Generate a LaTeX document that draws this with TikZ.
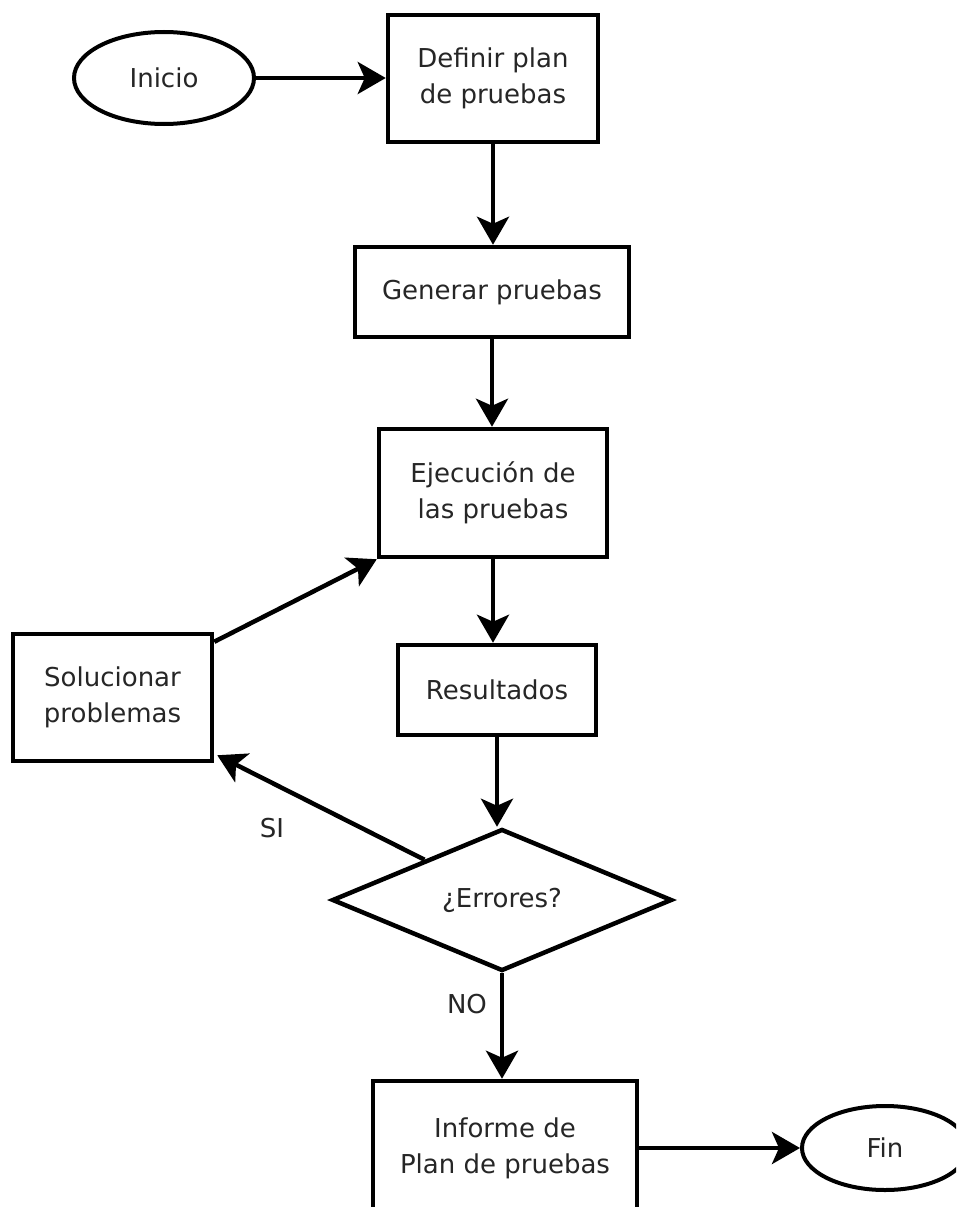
\documentclass[tikz,border=0pt]{standalone}
\usepackage{fontspec}
\setmainfont{DejaVu Sans}
\usetikzlibrary{shapes.geometric,arrows.meta,calc}
\begin{document}
\begin{tikzpicture}[x=1pt,y=-1pt,
  every node/.style={font=\fontsize{26}{36}\selectfont, text=black!85, align=center},
  box/.style={draw, line width=4.5pt, inner sep=0pt},
  term/.style={draw, ellipse, line width=4pt, inner sep=0pt},
  decision/.style={draw, diamond, line width=4.5pt, inner sep=0pt, aspect=2.4},
  arr/.style={line width=4.5pt, -{Stealth[length=28pt,width=32pt,inset=7pt]}}
]
\clip (0,0) rectangle (956,1207);
\fill[white] (0,0) rectangle (956,1207);

% flow nodes
\node[term, minimum width=180pt, minimum height=92pt] (ini) at (164,78) {Inicio};
\node[box, minimum width=210pt, minimum height=127pt] (def) at (493,78.5) {Definir plan\\de pruebas};
\node[box, minimum width=274pt, minimum height=90pt] (gen) at (492,292) {Generar pruebas};
\node[box, minimum width=228pt, minimum height=128pt] (eje) at (493,493) {Ejecución de\\las pruebas};
\node[box, minimum width=198pt, minimum height=90pt] (res) at (497,690) {Resultados};
\node[decision, minimum width=340pt, minimum height=142pt] (dia) at (502,900) {¿Errores?};
\node[box, minimum width=199pt, minimum height=127pt] (sol) at (112.5,697.5) {Solucionar\\problemas};
\node[box, minimum width=264pt, minimum height=134pt] (inf) at (505,1148) {Informe de\\Plan de pruebas};
\node[term, minimum width=166pt, minimum height=84pt] (fin) at (885,1148) {Fin};

% branch labels
\node (si) at (272,828) {SI};
\node (no) at (467,1004) {NO};

% connectors
\draw[arr] (ini.east) -- (ini.east -| def.west);
\draw[arr] (def.south) -- (def.south |- gen.north);
\draw[arr] (gen.south) -- (gen.south |- eje.north);
\draw[arr] (eje.south) -- (eje.south |- res.north);
\draw[arr] (res.south) -- (res.south |- dia.north);
\draw[arr] (dia.south) -- (dia.south |- inf.north);
\draw[arr] (inf.east) -- (inf.east -| fin.west);
\draw[arr] ([yshift=-10pt]sol.north east) -- (eje.south west);
\draw[arr] ($(dia.west)!0.55!(dia.north)$) -- ([xshift=3pt,yshift=8pt]sol.south east);
\end{tikzpicture}
\end{document}
